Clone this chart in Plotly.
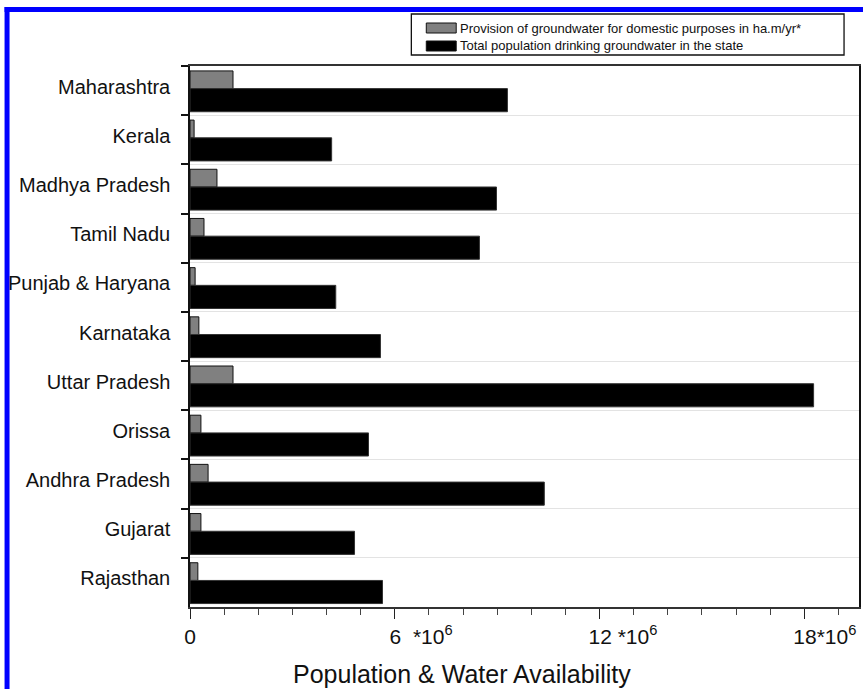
import plotly.graph_objects as go

# State-wise groundwater figures
states = [
    "Maharashtra", "Kerala", "Madhya Pradesh", "Tamil Nadu", "Punjab & Haryana",
    "Karnataka", "Uttar Pradesh", "Orissa", "Andhra Pradesh", "Gujarat", "Rajasthan",
]
domestic_provision = [1260000, 120000, 790000, 410000, 150000, 260000,
                      1260000, 320000, 530000, 320000, 230000]
population_on_groundwater = [9300000, 4150000, 8980000, 8480000, 4270000, 5580000,
                             18270000, 5230000, 10380000, 4820000, 5640000]

x_tick_vals = [0, 6000000, 12000000, 18000000]
NB = "\u00a0"
x_tick_text = [
    "0",
    NB * 9 + "6" + NB * 2 + "*10<sup>6</sup>",
    NB * 8 + "12" + NB + "*10<sup>6</sup>",
    NB * 7 + "18*10<sup>6</sup>",
]

legend_labels = [
    "Provision of groundwater for domestic purposes in ha.m/yr*",
    "Total population drinking groundwater in the state",
]

W, H = 863, 689
ML, MR, MT, MB = 190, 2, 66, 82
PW, PH = W - ML - MR, H - MT - MB


def px(x):
    return (x - ML) / PW


def py(y):
    return (H - MB - y) / PH


SANS = "Liberation Sans, Arial, sans-serif"

fig = go.Figure()
fig.add_trace(go.Bar(
    y=states, x=domestic_provision, orientation="h",
    offset=-0.40, width=0.36,
    marker=dict(color="#808080", line=dict(color="#111111", width=1)),
    name=legend_labels[0], showlegend=False,
))
fig.add_trace(go.Bar(
    y=states, x=population_on_groundwater, orientation="h",
    offset=-0.04, width=0.47,
    marker=dict(color="#000000", line=dict(color="#333333", width=1)),
    name=legend_labels[1], showlegend=False,
))

shapes = [
    # blue frame along the top and left edges
    dict(type="rect", xref="paper", yref="paper", x0=px(4), x1=px(9), y0=py(H + 5), y1=py(7),
         fillcolor="#0000ff", line=dict(width=0), layer="above"),
    dict(type="rect", xref="paper", yref="paper", x0=px(4), x1=px(W + 5), y0=py(12), y1=py(7),
         fillcolor="#0000ff", line=dict(width=0), layer="above"),
    # legend box and swatches
    dict(type="rect", xref="paper", yref="paper", x0=px(412), x1=px(846), y0=py(55), y1=py(14),
         fillcolor="white", line=dict(color="#111111", width=1.3)),
    dict(type="rect", xref="paper", yref="paper", x0=px(427), x1=px(457), y0=py(33), y1=py(23),
         fillcolor="#808080", line=dict(color="#111111", width=1)),
    dict(type="rect", xref="paper", yref="paper", x0=px(427), x1=px(457), y0=py(51), y1=py(41),
         fillcolor="#000000", line=dict(color="#111111", width=1)),
]

annotations = [
    dict(xref="paper", yref="paper", x=px(459), y=py(28), text=legend_labels[0],
         xanchor="left", yanchor="middle", showarrow=False,
         font=dict(family=SANS, size=13, color="#111111")),
    dict(xref="paper", yref="paper", x=px(459), y=py(46), text=legend_labels[1],
         xanchor="left", yanchor="middle", showarrow=False,
         font=dict(family=SANS, size=13, color="#111111")),
    dict(xref="paper", yref="paper", x=px(463), y=py(674), text="Population & Water Availability",
         xanchor="center", yanchor="middle", showarrow=False,
         font=dict(family=SANS, size=25, color="#111111")),
]

fig.update_layout(
    width=W, height=H,
    margin=dict(l=ML, r=MR, t=MT, b=MB, pad=0),
    paper_bgcolor="white", plot_bgcolor="white",
    barmode="overlay",
    showlegend=False,
    shapes=shapes,
    annotations=annotations,
    xaxis=dict(
        range=[0, 19600000],
        tickmode="array", tickvals=x_tick_vals, ticktext=x_tick_text,
        ticks="outside", ticklen=10, tickwidth=1.3, tickcolor="#222222",
        minor=dict(dtick=1000000, tick0=0, ticks="outside", ticklen=6,
                   tickwidth=1, tickcolor="#444444", showgrid=False),
        showline=True, linecolor="#333333", linewidth=1.5, mirror=True,
        showgrid=False, zeroline=False,
        tickfont=dict(family=SANS, size=21, color="#111111"),
        fixedrange=True,
    ),
    yaxis=dict(
        type="category", categoryorder="array", categoryarray=states,
        range=[10.5, -0.5],
        tickson="boundaries", ticks="outside", ticklen=7, tickwidth=1.5, tickcolor="#111111",
        showline=True, linecolor="#111111", linewidth=1.5, mirror=True,
        showgrid=True, gridcolor="#e3e3e3", gridwidth=1,
        ticklabelstandoff=14, ticklabelshift=4,
        tickfont=dict(family=SANS, size=20, color="#111111"),
        fixedrange=True,
    ),
)

fig.write_html("out.html")
